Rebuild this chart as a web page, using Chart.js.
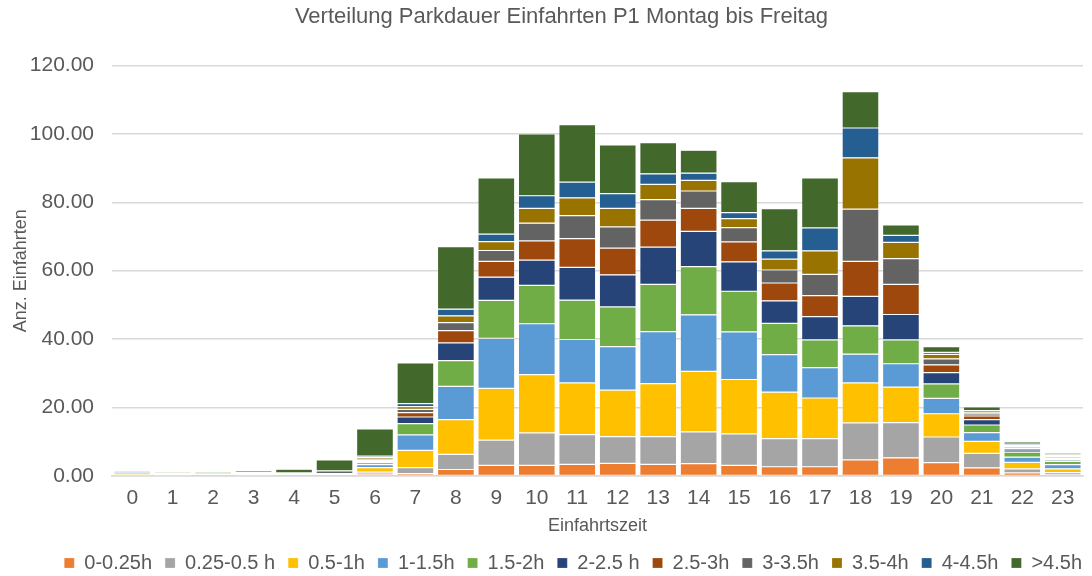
<!DOCTYPE html>
<html>
<head>
<meta charset="utf-8">
<script src="https://cdn.jsdelivr.net/npm/chart.js@4/dist/chart.umd.min.js"></script>
<style>
html,body{margin:0;padding:0;background:#fff;}
#wrap{width:1092px;height:576px;}
</style>
</head>
<body>
<div id="wrap"><canvas id="c" width="1092" height="576"></canvas></div>
<script>
const categories = ['0','1','2','3','4','5','6','7','8','9','10','11','12','13','14','15','16','17','18','19','20','21','22','23'];
const yTicks = [0, 20, 40, 60, 80, 100, 120];
const seriesNames = ['0-0.25h','0.25-0.5 h','0.5-1h','1-1.5h','1.5-2h','2-2.5 h','2.5-3h','3-3.5h','3.5-4h','4-4.5h','>4.5h'];
const seriesColors = ['#ED7D31','#A5A5A5','#FFC000','#5B9BD5','#70AD47','#264478','#9E480E','#636363','#997300','#255E91','#43682B'];

const s0  = [0.1,0,0,0,0,0,0.58,0.68,1.9,3.1,3.1,3.4,3.7,3.4,3.6,3.1,2.7,2.7,4.7,5.3,3.9,2.4,0.9,0.3];
const s1  = [0.2,0.1,0.2,0.1,0.5,0.3,0.58,1.75,4.4,7.4,9.5,8.7,7.8,8.1,9.3,9.2,8.2,8.2,10.8,10.3,7.5,4.2,1.2,0.7];
const s2  = [0.6,0.4,0.2,0.1,0.1,0.1,1.27,5.06,10.2,15.1,17.0,15.1,13.6,15.5,17.7,15.9,13.6,11.9,11.7,10.4,6.8,3.5,1.9,1.1];
const s3  = [0.5,0.2,0.4,0.2,0,0.2,0.88,4.5,9.7,14.6,14.9,12.7,12.7,15.2,16.5,13.9,11.0,8.9,8.4,6.8,4.5,2.6,1.5,1.2];
const s4  = [0.2,0.4,0.4,0.2,0.1,0.1,0.58,3.3,7.5,11.1,11.2,11.5,11.6,13.8,14.1,11.9,9.1,8.1,8.3,7.0,4.2,2.2,1.5,1.0];
const s5  = [0.1,0.1,0.1,0.1,0,0,0.3,1.95,5.2,6.8,7.4,9.6,9.4,10.9,10.3,8.6,6.6,6.8,8.6,7.4,3.3,1.56,0.6,0.4];
const s6  = [0.1,0.1,0,0.2,0,0,0.39,1.27,3.6,4.6,5.6,8.4,7.8,7.9,6.7,5.8,5.2,6.1,10.2,8.8,2.3,1.07,0.5,0.4];
const s7  = [0.1,0.1,0.1,0.1,0.2,0.8,0.39,0.97,2.3,3.2,5.2,6.7,6.2,6.0,5.1,4.2,3.8,6.2,15.3,7.5,1.75,0.6,0.4,0.4];
const s8  = [0.1,0.2,0,0.1,0,0,0.49,0.78,2.0,2.6,4.3,5.2,5.4,4.4,3.1,2.6,3.2,6.9,15.0,4.8,1.3,0.5,0.4,0.4];
const s9  = [0,0,0.1,0,0,0,0.39,0.88,1.95,2.2,3.7,4.6,4.3,3.1,2.1,1.75,2.4,6.7,8.7,2.0,0.6,0.5,0.4,0.3];
const s10 = [0.2,0.2,0.2,0.5,1.1,3.2,7.9,11.9,18.3,16.4,18.1,16.8,14.3,9.1,6.7,9.1,12.3,14.6,10.6,3.1,1.65,1.07,0.7,0.5];

const seriesValues = [s0,s1,s2,s3,s4,s5,s6,s7,s8,s9,s10];
const txt = '#595959';
const fam = '"Liberation Sans", Arial, sans-serif';

const datasets = seriesNames.map((n, i) => ({
  label: n,
  data: seriesValues[i],
  backgroundColor: seriesColors[i],
  borderColor: 'rgba(255,255,255,0.35)',
  borderWidth: 0.6,
  borderSkipped: false,
  barPercentage: 0.91,
  categoryPercentage: 1.0
}));

const shiftBlocks = {
  id: 'shiftBlocks',
  afterLayout(chart) {
    if (chart.titleBlock) { chart.titleBlock.left += 40; }
    if (chart.legend) { chart.legend.left += 12; chart.legend.right += 12; }
  }
};

new Chart(document.getElementById('c'), {
  type: 'bar',
  data: { labels: categories, datasets },
  plugins: [shiftBlocks],
  options: {
    responsive: false,
    animation: false,
    layout: { padding: { left: 0, right: 9, top: 0, bottom: -7 } },
    plugins: {
      title: {
        display: true,
        text: 'Verteilung Parkdauer Einfahrten P1 Montag bis Freitag',
        color: txt,
        font: { family: fam, size: 22, weight: 'normal' },
        padding: { top: 4, bottom: 35 }
      },
      legend: {
        position: 'bottom',
        align: 'end',
        labels: {
          color: txt,
          font: { family: fam, size: 20 },
          boxWidth: 10,
          boxHeight: 10,
          padding: 13
        }
      },
      tooltip: { enabled: false }
    },
    scales: {
      x: {
        stacked: true,
        grid: { display: false },
        border: { display: true, color: '#d9d9d9', width: 1.5 },
        ticks: { color: txt, font: { family: fam, size: 21 }, padding: 2, maxRotation: 0, autoSkip: false },
        title: { display: true, text: 'Einfahrtszeit', color: txt, font: { family: fam, size: 18 }, padding: { top: 0, bottom: 3 } },
        afterFit: (s) => { s.height = 64; }
      },
      y: {
        stacked: true,
        min: 0,
        max: 120,
        afterBuildTicks: (s) => { s.ticks = yTicks.map(v => ({ value: v })); },
        grid: { color: '#d9d9d9', lineWidth: 1.5, drawTicks: false },
        border: { display: false },
        ticks: { color: txt, font: { family: fam, size: 21 }, padding: 18, callback: (v) => Number(v).toFixed(2) },
        title: { display: true, text: 'Anz. Einfahrten', color: txt, font: { family: fam, size: 18 }, padding: { top: 10, bottom: 0 } },
        afterFit: (s) => { s.width = 112; }
      }
    }
  }
});
</script>
</body>
</html>
